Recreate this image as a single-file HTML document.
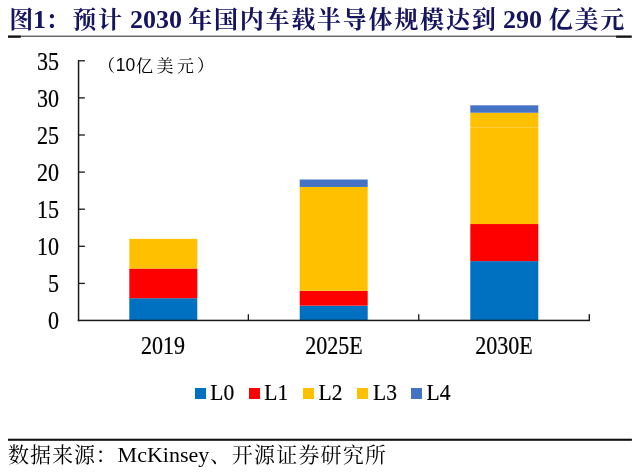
<!DOCTYPE html>
<html lang="zh-CN">
<head>
<meta charset="utf-8">
<title>图1：预计 2030 年国内车载半导体规模达到 290 亿美元</title>
<style>
html,body{margin:0;padding:0;background:#fff;}
body{width:640px;height:472px;position:relative;overflow:hidden;font-family:"Liberation Serif","Noto Serif CJK SC",serif;color:#000;}
.t{position:absolute;white-space:nowrap;line-height:1;}
#title{left:0;top:0;width:640px;height:34px;font-weight:bold;color:#14145f;}
#title span{position:absolute;white-space:nowrap;line-height:1;}
#title .c{font-size:24px;letter-spacing:1.77px;top:7.5px;}
#title .n{font-size:26px;top:6.5px;}
.yl{font-size:22px;width:40px;text-align:right;left:19px;transform:scaleY(1.1);-webkit-text-stroke:0.2px #000;}
.xl{font-size:22px;width:120px;text-align:center;transform:scaleY(1.1);-webkit-text-stroke:0.2px #000;}
#unit{left:0;top:0;width:640px;height:0;}
#unit span{position:absolute;white-space:nowrap;line-height:1;}
#unit .c{font-size:17px;letter-spacing:3.5px;top:57.5px;}
#unit .n{font-family:"Liberation Sans",sans-serif;font-size:17.5px;top:57.1px;}
.lg{font-size:21.5px;top:382.4px;transform:scaleY(1.08);-webkit-text-stroke:0.2px #000;}
#src{left:0;top:0;width:640px;height:0;}
#src span{position:absolute;white-space:nowrap;line-height:1;}
#src .c{font-size:21px;letter-spacing:1.0px;top:444.5px;}
#src .c2{letter-spacing:1.2px;}
#src .n{font-size:22px;top:443.8px;}
svg{position:absolute;left:0;top:0;}
</style>
</head>
<body>
<svg width="640" height="472" viewBox="0 0 640 472" shape-rendering="crispEdges">
  <!-- title rule -->
  <g shape-rendering="geometricPrecision">
  <rect x="8" y="35.6" width="623.7" height="1.3" fill="#555"/>
  <rect x="8" y="35.6" width="12.8" height="2.2" fill="#111"/>
  <rect x="616.1" y="35.7" width="15.6" height="2.1" fill="#111"/>
  <!-- bottom rule -->
  <rect x="8" y="438.7" width="623.9" height="2.1" fill="#111"/>
  </g>
  <!-- bars -->
  <g shape-rendering="geometricPrecision">
    <rect x="129.3" y="298.24" width="68" height="22.26" fill="#0070c0"/>
    <rect x="129.3" y="268.56" width="68" height="29.68" fill="#ff0000"/>
    <rect x="129.3" y="238.88" width="68" height="29.68" fill="#ffc000"/>
    <rect x="299.7" y="305.66" width="68" height="14.84" fill="#0070c0"/>
    <rect x="299.7" y="290.82" width="68" height="14.84" fill="#ff0000"/>
    <rect x="299.7" y="186.94" width="68" height="103.88" fill="#ffc000"/>
    <rect x="299.7" y="179.52" width="68" height="7.42" fill="#4472c4"/>
    <rect x="470.3" y="261.14" width="68" height="59.36" fill="#0070c0"/>
    <rect x="470.3" y="224.04" width="68" height="37.10" fill="#ff0000"/>
    <rect x="470.3" y="127.58" width="68" height="96.46" fill="#ffc000"/>
    <rect x="470.3" y="112.74" width="68" height="14.84" fill="#ffc000"/>
    <rect x="470.3" y="105.32" width="68" height="7.42" fill="#4472c4"/>
  </g>
  <!-- axes -->
  <g fill="#1a1a1a" shape-rendering="geometricPrecision">
    <rect x="77.8" y="60.2" width="1.5" height="261"/>
    <rect x="77.8" y="319.7" width="512.2" height="1.5"/>
    <rect x="78" y="60.15" width="6.9" height="1.3"/>
    <rect x="78" y="97.25" width="6.9" height="1.3"/>
    <rect x="78" y="134.35" width="6.9" height="1.3"/>
    <rect x="78" y="171.45" width="6.9" height="1.3"/>
    <rect x="78" y="208.55" width="6.9" height="1.3"/>
    <rect x="78" y="245.65" width="6.9" height="1.3"/>
    <rect x="78" y="282.75" width="6.9" height="1.3"/>
    <rect x="247.7" y="314.2" width="1.3" height="6"/>
    <rect x="418.1" y="314.2" width="1.3" height="6"/>
    <rect x="588.6" y="314.2" width="1.4" height="6"/>
  </g>
  <!-- legend swatches -->
  <rect x="195" y="388" width="11" height="10.6" fill="#0070c0"/>
  <rect x="249" y="388" width="11" height="10.6" fill="#ff0000"/>
  <rect x="303" y="388" width="11" height="10.6" fill="#ffc000"/>
  <rect x="357" y="388" width="11" height="10.6" fill="#ffc000"/>
  <rect x="411" y="388" width="11" height="10.6" fill="#4472c4"/>
</svg>

<div id="title" class="t"><span class="c" style="left:9.2px">图</span><span class="n" style="left:33px">1</span><span class="c" style="left:45.5px">：</span><span class="c" style="left:72.2px">预计 </span><span class="n" style="left:130px">2030</span><span class="c" style="left:188.2px"> 年国内车载半导体规模达到 </span><span class="n" style="left:503px">290</span><span class="c" style="left:548.7px"> 亿美元</span></div>

<div class="t yl" style="top:51px">35</div>
<div class="t yl" style="top:88px">30</div>
<div class="t yl" style="top:125px">25</div>
<div class="t yl" style="top:162px">20</div>
<div class="t yl" style="top:199px">15</div>
<div class="t yl" style="top:236px">10</div>
<div class="t yl" style="top:273px">5</div>
<div class="t yl" style="top:310px">0</div>

<div id="unit" class="t"><span class="c" style="left:98px">（</span><span class="n" style="left:115.8px">10</span><span class="c" style="left:136px">亿美元</span><span class="c" style="left:197px">）</span></div>

<div class="t xl" style="left:103px;top:335px">2019</div>
<div class="t xl" style="left:274px;top:335px">2025E</div>
<div class="t xl" style="left:444px;top:335px">2030E</div>

<div class="t lg" style="left:210.3px">L0</div>
<div class="t lg" style="left:264.3px">L1</div>
<div class="t lg" style="left:318.5px">L2</div>
<div class="t lg" style="left:373px">L3</div>
<div class="t lg" style="left:426.5px">L4</div>

<div id="src" class="t"><span class="c" style="left:8px">数据来源</span><span class="c" style="left:95.7px">：</span><span class="n" style="left:117.6px">McKinsey</span><span class="c" style="left:210px">、</span><span class="c c2" style="left:231.8px">开源证券研究所</span></div>
</body>
</html>
